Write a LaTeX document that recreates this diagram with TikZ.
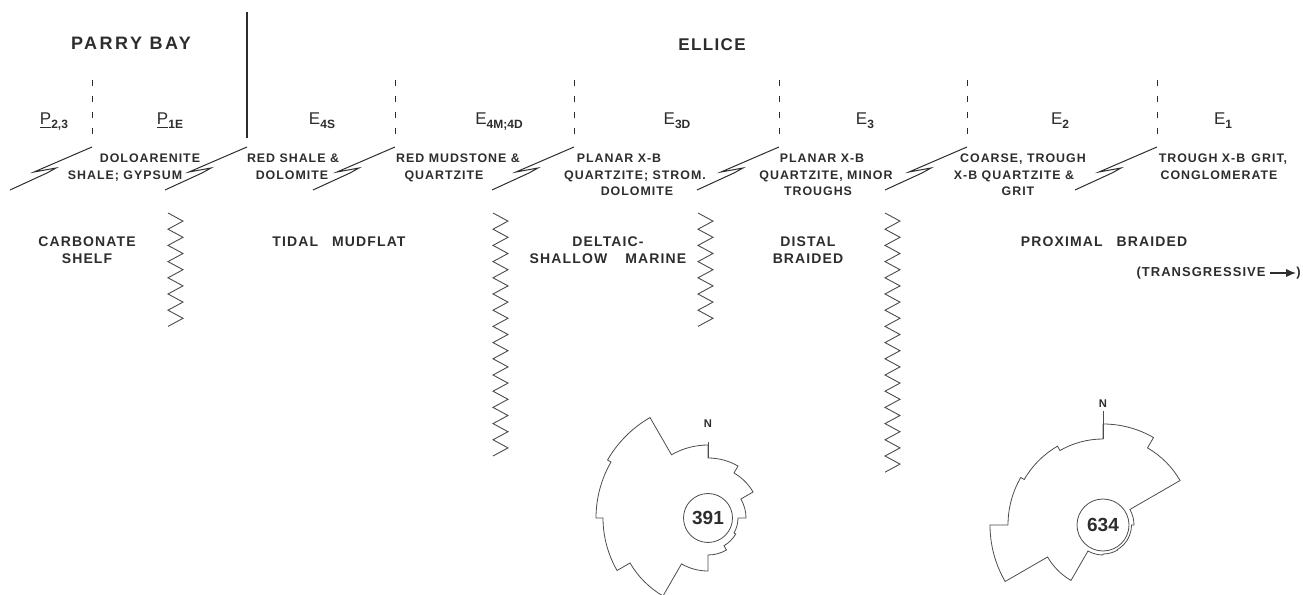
\documentclass[tikz,border=0pt]{standalone}
\usepackage{fontspec}
\setmainfont{Liberation Sans}
\newfontfamily\headfont[LetterSpace=14]{Liberation Sans}
\newfontfamily\capsfont[LetterSpace=8]{Liberation Sans}
\usetikzlibrary{arrows.meta}
\definecolor{ink}{RGB}{45,45,45}
\newcommand{\unitsub}[1]{\raisebox{-1.8pt}{\fontsize{6}{6}\selectfont\bfseries #1}}
\tikzset{
    region/.style={font=\headfont\bfseries\fontsize{9}{11}\selectfont, text=ink, inner sep=0pt},
    unitlbl/.style={font=\fontsize{8.5}{10}\selectfont, text=ink, inner sep=0pt, anchor=base},
    lith/.style={font=\capsfont\bfseries\fontsize{6.2}{8}\selectfont, text=ink, inner sep=0pt, anchor=base},
    facies/.style={font=\capsfont\bfseries\fontsize{7}{8.5}\selectfont, text=ink,
                   align=center, inner sep=0pt, anchor=north},
    note/.style={font=\capsfont\bfseries\fontsize{6.5}{8}\selectfont, text=ink, inner sep=0pt},
    colline/.style={draw=ink, line width=0.9pt},
    dashline/.style={draw=ink, line width=0.45pt, dash pattern=on 3pt off 5pt},
    boundary/.style={draw=ink, line width=0.5pt},
    breakline/.style={insert path={-- ++(-58,-25) -- ++(22,4) -- ++(-9,-5) -- ++(-37,-17)}},
    interfinger/.style={draw=ink!85, line width=0.45pt},
    rose/.style={draw=ink!85, line width=0.4pt},
    count/.style={circle, draw=ink!85, line width=0.4pt, inner sep=0pt,
                  font=\bfseries\fontsize{9.5}{10}\selectfont, text=ink},
    northlbl/.style={font=\bfseries\fontsize{5.6}{6}\selectfont, text=ink, inner sep=0pt},
}

\begin{document}
\begin{tikzpicture}[x=0.5pt, y=0.5pt]
    \useasboundingbox (0,0) rectangle (1303,595);

    \node[region, anchor=base] (parry) at (131,545) {PARRY BAY};
    \node[region, anchor=base, font=\capsfont\bfseries\fontsize{8.5}{11}\selectfont] (ellice) at (712,544) {ELLICE};
    \draw[colline] (247,583) -- (247,457);
    \foreach \x in {92,395,574,779,967,1157}
        \draw[dashline] (\x,515) -- (\x,455);

    \node[unitlbl] (p23) at (54,470) {\underline{P}\unitsub{2,3}};
    \node[unitlbl] (p1e) at (170,470) {\underline{P}\unitsub{1E}};
    \node[unitlbl] (e4s) at (322,470) {E\unitsub{4S}};
    \node[unitlbl] (e4m) at (499,470) {E\unitsub{4M;4D}};
    \node[unitlbl] (e3d) at (677,470) {E\unitsub{3D}};
    \node[unitlbl] (e3) at (865,470) {E\unitsub{3}};
    \node[unitlbl] (e2) at (1060,470) {E\unitsub{2}};
    \node[unitlbl] (e1) at (1223,470) {E\unitsub{1}};

    \foreach \x [count=\i] in {92,247,395,574,779,967,1157} {
        \coordinate (brk\i) at (\x,448);
        \draw[boundary] (brk\i) [breakline];
    }

    \node[lith] (lith1a) at (150,432) {DOLOARENITE};
    \node[lith] (lith1b) at (125,415) {SHALE; GYPSUM};
    \node[lith] (lith2a) at (293,432) {RED SHALE \&};
    \node[lith] (lith2b) at (292,415) {DOLOMITE};
    \node[lith] (lith3a) at (458,432) {RED MUDSTONE \&};
    \node[lith] (lith3b) at (444,415) {QUARTZITE};
    \node[lith] (lith4a) at (619,432) {PLANAR X-B};
    \node[lith] (lith4b) at (635,415) {QUARTZITE; STROM.};
    \node[lith] (lith4c) at (637,399) {DOLOMITE};
    \node[lith] (lith5a) at (822,432) {PLANAR X-B};
    \node[lith] (lith5b) at (826,415) {QUARTZITE, MINOR};
    \node[lith] (lith5c) at (818,399) {TROUGHS};
    \node[lith] (lith6a) at (1023,432) {COARSE, TROUGH};
    \node[lith] (lith6b) at (1014,415) {X-B QUARTZITE \&};
    \node[lith] (lith6c) at (1018,399) {GRIT};
    \node[lith] (lith7a) at (1223,432) {TROUGH X-B\hspace{0.5em}GRIT,};
    \node[lith] (lith7b) at (1219,415) {CONGLOMERATE};

    \foreach \x/\n in {168/7,493/15,698/7,885/16}
        \draw[interfinger] (\x,382) \foreach \k in {1,...,\n} { -- ++(15,-8.1) -- ++(-15,-8.1) };

    \node[facies] (carb) at (87,359) {CARBONATE\\SHELF};
    \node[facies] (tidal) at (339,359) {TIDAL\hspace{1em}MUDFLAT};
    \node[facies] (delta) at (608,359) {DELTAIC-\\SHALLOW\hspace{1.3em}MARINE};
    \node[facies] (distal) at (808,359) {DISTAL\\BRAIDED};
    \node[facies] (prox) at (1104,359) {PROXIMAL\hspace{1em}BRAIDED};
    \node[note, anchor=east] (transg) at (1266,322) {(TRANSGRESSIVE};
    \node[note, anchor=west] (transgend) at (1296,322) {)};
    \draw[-{Latex[length=5pt,width=4.2pt]}, line width=0.7pt, ink]
        ([xshift=2pt]transg.east) -- (transgend.west);

    \node[count, minimum size=24.5pt] (rose1) at (708,77) {391};
    \draw[rose] ([shift={(90:60)}]rose1.center)
        \foreach \brg/\rad in {0/60,30/52,60/38,90/30,120/32,150/37,180/53,
                               210/90,240/105,270/112,300/116,330/73}
        { -- ([shift={({90-\brg}:\rad)}]rose1.center)
          arc[start angle={90-\brg}, end angle={60-\brg}, radius=\rad] }
        -- cycle;
    \draw[rose] ([shift={(90:60)}]rose1.center) -- ([shift={(90:76)}]rose1.center);
    \node[northlbl] (north1) at ([shift={(90:94)}]rose1.center) {N};

    \node[count, minimum size=26pt] (rose2) at (1103,70) {634};
    \draw[rose] ([shift={(90:101)}]rose2.center)
        \foreach \brg/\rad in {0/101,30/89,60/31,90/28.5,120/28.5,150/29,180/30,
                               210/64,240/113,270/95,300/91,330/86}
        { -- ([shift={({90-\brg}:\rad)}]rose2.center)
          arc[start angle={90-\brg}, end angle={60-\brg}, radius=\rad] }
        -- cycle;
    \draw[rose] ([shift={(90:86)}]rose2.center) -- ([shift={(90:114)}]rose2.center);
    \node[northlbl] (north2) at ([shift={(90:121)}]rose2.center) {N};
\end{tikzpicture}
\end{document}
